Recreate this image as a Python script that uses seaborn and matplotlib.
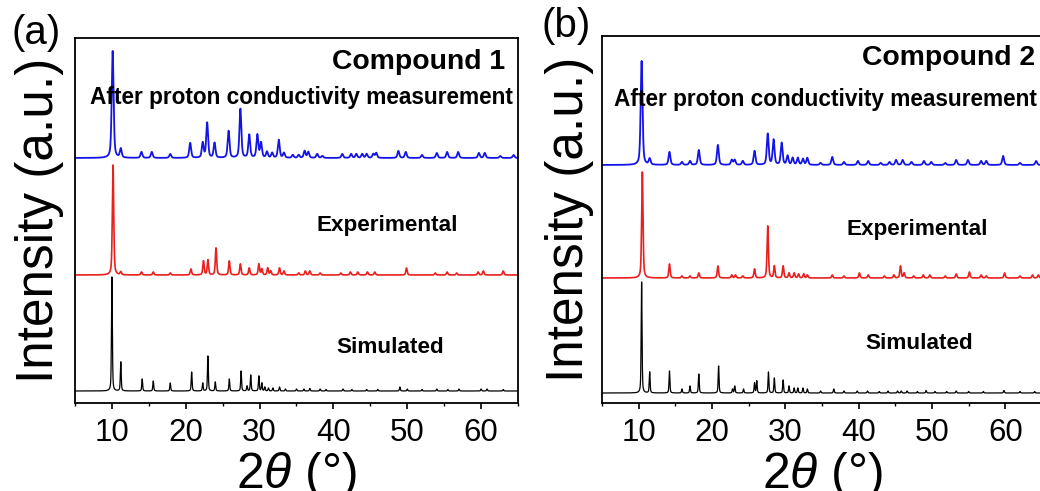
import numpy as np
import pandas as pd
import matplotlib
matplotlib.use("Agg")
import matplotlib.pyplot as plt
import seaborn as sns
from matplotlib.ticker import MultipleLocator

# ---------------- data (peak positions in 2theta, peak heights in a.u.) ----------------
c1_sim_pos = [10.0, 11.2, 14.1, 15.6, 17.9, 20.8, 22.3, 23.0, 24.0, 25.9, 27.5, 28.3, 28.8, 29.9, 30.3,
              30.7, 31.2, 31.8, 32.7, 33.5, 35.0, 36.0, 36.8, 38.2, 39.0, 41.3, 42.5, 44.5, 46.0, 49.0,
              50.0, 52.0, 54.0, 55.5, 57.0, 60.0, 60.8, 63.0]
c1_sim_h = [114, 29, 12, 10, 8, 19, 8, 35, 9, 12, 20, 5, 16, 15, 8,
            4, 3, 3, 4, 2, 2, 2, 2.5, 2, 1.5, 2, 1.5, 1.5, 1.5, 4,
            2, 1.5, 2, 1.5, 2, 2, 2, 1.5]

c1_exp_pos = [10.15, 11.2, 14.0, 15.6, 17.9, 20.7, 22.4, 23.0, 24.1, 25.9, 27.4, 28.6, 29.9, 30.3, 31.1,
              31.5, 32.7, 33.3, 35.3, 36.2, 36.8, 38.2, 41.0, 42.3, 43.3, 44.6, 45.6, 49.9, 53.8, 55.4,
              56.7, 59.6, 60.3, 63.0]
c1_exp_h = [110, 3, 3, 3, 2, 6, 14, 15, 27, 14, 11, 7, 11, 6, 7,
            4, 7, 4, 2, 4, 4, 2, 2, 3, 3, 3, 3, 7, 2, 3,
            2, 3, 4, 4]

c1_after_pos = [10.1, 11.2, 14.0, 15.4, 17.9, 20.6, 22.3, 22.9, 23.9, 25.8, 27.4, 28.6, 29.7, 30.2, 31.0,
                31.7, 32.6, 33.3, 34.5, 35.3, 36.1, 36.6, 37.8, 38.5, 41.2, 42.4, 43.1, 43.9, 44.5, 45.4,
                45.8, 48.8, 49.8, 52.0, 54.0, 55.4, 56.9, 59.7, 60.5, 62.6, 64.4]
c1_after_h = [107, 9, 6, 6, 4, 15, 15, 35, 15, 27, 49, 23, 23, 15, 6,
              5, 18, 5, 3, 3, 7, 6, 4, 2, 4, 4, 4, 4, 4, 4,
              5, 7, 6, 3, 5, 6, 6, 5, 5, 2, 3]

c2_sim_pos = [10.4, 11.5, 14.2, 15.9, 17.0, 18.2, 20.9, 22.8, 23.1, 24.3, 25.8, 26.1, 27.7, 28.5, 29.7,
              30.5, 31.2, 31.7, 32.4, 33.0, 34.8, 36.6, 38.0, 39.8, 41.2, 42.8, 44.0, 45.3, 45.8, 46.6,
              48.0, 49.2, 50.4, 52.0, 53.3, 55.0, 57.0, 59.8, 62.0, 64.0]
c2_sim_h = [111, 21, 22, 4, 7, 19, 27, 4, 7, 4, 10, 12, 21, 15, 13,
            7, 5, 5, 5, 4, 2, 4, 2, 2, 2, 1.5, 2, 2, 2, 2,
            1.5, 2.5, 1.5, 1.5, 2, 1.5, 1.5, 2.5, 1.5, 1.5]

c2_exp_pos = [10.5, 14.2, 15.9, 17.0, 18.2, 20.8, 22.7, 23.2, 24.2, 25.8, 27.6, 28.5, 29.7, 30.5, 31.2,
              31.8, 32.5, 33.0, 36.4, 38.0, 40.1, 41.3, 43.5, 44.8, 45.7, 46.2, 47.5, 48.8, 49.7, 51.8,
              53.3, 55.1, 56.7, 57.4, 59.9, 62.0, 63.7, 64.5]
c2_exp_h = [106, 14, 2, 2, 5, 12, 3, 3, 2, 9, 52, 12, 12, 5, 5,
            4, 4, 3, 3, 2, 5, 3, 2, 3, 12, 5, 2, 3, 3, 2,
            4, 6, 3, 2, 5, 2, 3, 3]

c2_after_pos = [10.4, 11.5, 14.2, 15.9, 17.0, 18.2, 20.8, 22.7, 23.1, 24.2, 25.8, 27.6, 28.4, 29.5, 30.3,
                31.0, 31.7, 32.4, 33.0, 34.8, 36.4, 38.0, 39.9, 41.3, 43.0, 44.2, 45.1, 46.0, 47.2, 48.9,
                49.9, 51.8, 53.3, 54.9, 56.7, 57.4, 59.7, 62.0, 64.2]
c2_after_h = [104, 6, 13, 3, 4, 15, 20, 5, 5, 4, 14, 31, 25, 22, 9,
              7, 7, 6, 7, 2, 8, 3, 4, 4, 2, 3, 5, 5, 3, 4,
              3, 2, 5, 5, 4, 4, 9, 2, 4]

series_labels = ["Simulated", "Experimental", "After proton conductivity measurement"]
compound_titles = ["Compound 1", "Compound 2"]
panel_tags = ["(a)", "(b)"]
x_ticks = [10, 20, 30, 40, 50, 60]

# ---------------- style / layout ----------------
sns.set_style("ticks")
plt.rcParams["font.family"] = ["Liberation Sans", "DejaVu Sans"]
plt.rcParams["mathtext.fontset"] = "custom"
plt.rcParams["mathtext.it"] = "Liberation Sans:italic"
plt.rcParams["mathtext.rm"] = "Liberation Sans"
plt.rcParams["text.color"] = "#000000"
plt.rcParams["axes.labelcolor"] = "#000000"
plt.rcParams["xtick.color"] = "#000000"
plt.rcParams["xtick.labelcolor"] = "#000000"

W, H = 1040, 491
fig = plt.figure(figsize=(W / 100, H / 100), dpi=100)


def rect(l, t, r, b):
    return [l / W, 1 - b / H, (r - l) / W, (b - t) / H]


def profile(x, pos, h, hw):
    y = np.zeros_like(x)
    for p, a in zip(pos, h):
        d = (x - p) / hw
        y += a * (0.5 / (1 + d ** 2) + 0.5 * np.exp(-np.log(2) * d ** 2))
    return y


xx = np.arange(5, 65.001, 0.01)
colors = ["#000000", "#e8201e", "#1414e6"]
lws = [0.9, 1.2, 1.3]
hws = [0.07, 0.11, 0.15]

panels = [
    dict(rect=rect(75, 38, 518, 403), ylim=365, offsets=[12, 128, 245],
         data=[(c1_sim_pos, c1_sim_h), (c1_exp_pos, c1_exp_h), (c1_after_pos, c1_after_h)],
         title_xy=(0.971, 0.934), after_xy=(0.511, 0.836), exp_xy=(0.704, 0.485), sim_xy=(0.711, 0.151),
         tag_xy=(11, 14), ylabelpad=8),
    dict(rect=rect(602, 36, 1042, 403), ylim=367, offsets=[10, 125, 238],
         data=[(c2_sim_pos, c2_sim_h), (c2_exp_pos, c2_exp_h), (c2_after_pos, c2_after_h)],
         title_xy=(0.984, 0.940), after_xy=(0.508, 0.826), exp_xy=(0.716, 0.474), sim_xy=(0.720, 0.161),
         tag_xy=(541, 7), ylabelpad=6),
]

for i, pn in enumerate(panels):
    ax = fig.add_axes(pn["rect"])
    for k, ((pos, h), off) in enumerate(zip(pn["data"], pn["offsets"])):
        df = pd.DataFrame({"x": xx, "y": off + profile(xx, pos, h, hws[k])})
        sns.lineplot(data=df, x="x", y="y", ax=ax, color=colors[k], lw=lws[k],
                     estimator=None, sort=False)
    ax.set_xlim(5, 65)
    ax.set_ylim(0, pn["ylim"])
    ax.set_yticks([])
    ax.set_xticks(x_ticks)
    ax.xaxis.set_minor_locator(MultipleLocator(5))
    ax.tick_params(axis="x", which="major", direction="out", length=4, width=1.2,
                   labelsize=22.5, pad=7, colors="#000000")
    ax.tick_params(axis="x", which="minor", direction="out", length=2.5, width=1.0, colors="#000000")
    for s in ax.spines.values():
        s.set_linewidth(1.3)
        s.set_color("#000000")
    ax.set_xlabel(r"2$\theta$ (°)", fontsize=36, labelpad=1, color="#000000")
    ax.set_ylabel("Intensity (a.u.)", fontsize=37, labelpad=pn["ylabelpad"], color="#000000")

    ax.text(*pn["title_xy"], compound_titles[i], transform=ax.transAxes, ha="right", va="center",
            fontsize=20.4, fontweight="bold", color="#000000")
    ax.text(*pn["after_xy"], series_labels[2], transform=ax.transAxes, ha="center", va="center",
            fontsize=16.3, fontweight="bold", color="#000000")
    ax.text(*pn["exp_xy"], series_labels[1], transform=ax.transAxes, ha="center", va="center",
            fontsize=16.2, fontweight="bold", color="#000000")
    ax.text(*pn["sim_xy"], series_labels[0], transform=ax.transAxes, ha="center", va="center",
            fontsize=16.2, fontweight="bold", color="#000000")

    tx, ty = pn["tag_xy"]
    fig.text(tx / W, 1 - ty / H, panel_tags[i], ha="left", va="top", fontsize=29, color="#000000")

fig.savefig("out.png", dpi=100)
